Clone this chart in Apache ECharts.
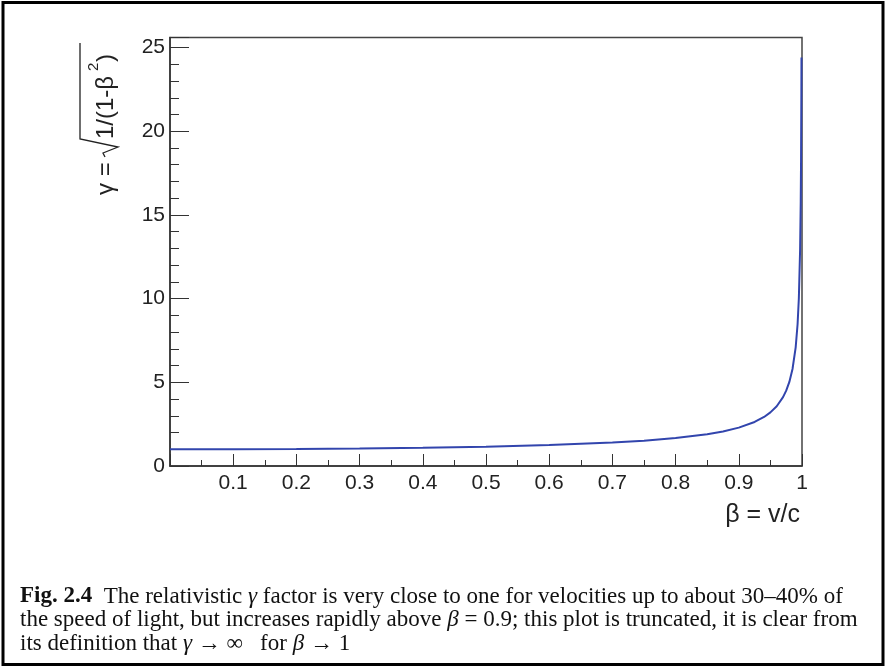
<!DOCTYPE html>
<html><head><meta charset="utf-8">
<script src="https://cdn.jsdelivr.net/npm/echarts@6/dist/echarts.min.js"></script>
<style>html,body{margin:0;padding:0;background:#fff}#c{width:886px;height:667px}</style>
</head><body><div id="c"></div>
<script>
// values
const betaValues  = [0, 0.1, 0.2, 0.3, 0.4, 0.5, 0.6, 0.7, 0.75, 0.8, 0.85, 0.875, 0.9, 0.925, 0.94, 0.95, 0.96, 0.97, 0.975, 0.98, 0.985, 0.99, 0.993, 0.995, 0.997, 0.998, 0.9985, 0.999, 0.99916];
const gammaValues = [1.0, 1.005, 1.021, 1.048, 1.091, 1.155, 1.25, 1.40, 1.51, 1.667, 1.898, 2.066, 2.294, 2.632, 2.931, 3.203, 3.571, 4.113, 4.5, 5.025, 5.795, 7.089, 8.47, 10.01, 12.92, 15.82, 18.26, 22.37, 24.4];
const xTicks = [0.1, 0.2, 0.3, 0.4, 0.5, 0.6, 0.7, 0.8, 0.9, 1];
const yTicks = [0, 5, 10, 15, 20, 25];
const captionLines = [
  [{t:'Fig. 2.4', s:'b'}, {t:'  The relativistic '}, {t:'γ', s:'i'}, {t:' factor is very close to one for velocities up to about 30–40% of'}],
  [{t:'the speed of light, but increases rapidly above '}, {t:'β', s:'i'}, {t:' = 0.9; this plot is truncated, it is clear from'}],
  [{t:'its definition that '}, {t:'γ', s:'i'}, {t:' → ∞   for '}, {t:'β', s:'i'}, {t:' → 1'}]
];

const chart = echarts.init(document.getElementById('c'), null, {renderer:'canvas'});
const axisCol = '#333';
const lab = {fontFamily:'Liberation Sans', fontSize:21, color:'#222'};

const capEls = captionLines.map((parts, i) => ({
  type:'text', left: 20, top: 585 + i*23.5,
  style:{
    text: parts.map(p => p.s ? '{' + p.s + '|' + p.t + '}' : '{n|' + p.t + '}').join(''),
    rich:{
      n:{fontFamily:'Liberation Serif', fontSize:23, fill:'#111'},
      b:{fontFamily:'Liberation Serif', fontSize:23, fontWeight:'bold', fill:'#111'},
      i:{fontFamily:'Liberation Serif', fontSize:23, fontStyle:'italic', fill:'#111'}
    }
  }
}));

chart.setOption({
  animation:false,
  grid:{left:170, right:84, top:37.5, bottom:201, show:true, borderColor:'#444', borderWidth:1.5, backgroundColor:'transparent'},
  xAxis:{
    type:'value', min:0, max:1, interval:0.1,
    axisLine:{onZero:false, lineStyle:{color:axisCol, width:1.5}},
    axisTick:{inside:true, length:12, lineStyle:{color:axisCol}},
    minorTick:{show:true, splitNumber:2, length:6, lineStyle:{color:axisCol}},
    splitLine:{show:false},
    axisLabel:Object.assign({margin:7, formatter:v => xTicks.some(t => Math.abs(t - v) < 1e-9) ? String(+v.toFixed(1)) : ''}, lab)
  },
  yAxis:{
    type:'value', min:0, max:25.6, interval:5,
    axisLine:{show:true, lineStyle:{color:axisCol, width:1.5}},
    axisTick:{inside:true, length:19, lineStyle:{color:axisCol}},
    minorTick:{show:true, splitNumber:5, length:9, lineStyle:{color:axisCol}},
    splitLine:{show:false},
    axisLabel:Object.assign({margin:5, showMaxLabel:false, formatter:v => yTicks.indexOf(v) >= 0 ? String(v) : ''}, lab)
  },
  series:[{
    type:'line', showSymbol:false, smooth:false, clip:true,
    data: betaValues.map((b, i) => [b, gammaValues[i]]),
    lineStyle:{color:'#3245ad', width:2}
  }],
  graphic:[
    {type:'rect', shape:{x:3, y:2.5, width:880, height:662}, style:{fill:'none', stroke:'#000', lineWidth:3}, silent:true},
    {type:'text', x:800, y:515, style:{text:'β = v/c', fontFamily:'Liberation Sans', fontSize:25, fill:'#222', align:'right', verticalAlign:'middle'}},
    {type:'group', x:106, y:195, rotation:Math.PI/2, children:[
      {type:'text', x:0, y:0, style:{text:'γ =', fontFamily:'Liberation Sans', fontSize:24, fill:'#222', align:'left', verticalAlign:'middle'}},
      {type:'polyline', shape:{points:[[38,-1],[42,-3],[48,12],[56,-26],[152,-26]]}, style:{stroke:'#222', lineWidth:1.3, fill:'none'}},
      {type:'text', x:56, y:0, style:{text:'1/(1-β', fontFamily:'Liberation Sans', fontSize:24, fill:'#222', align:'left', verticalAlign:'middle'}},
      {type:'text', x:124, y:-12, style:{text:'2', fontFamily:'Liberation Sans', fontSize:15, fill:'#222', align:'left', verticalAlign:'middle'}},
      {type:'text', x:133, y:0, style:{text:')', fontFamily:'Liberation Sans', fontSize:24, fill:'#222', align:'left', verticalAlign:'middle'}}
    ]}
  ].concat(capEls)
});
</script></body></html>
